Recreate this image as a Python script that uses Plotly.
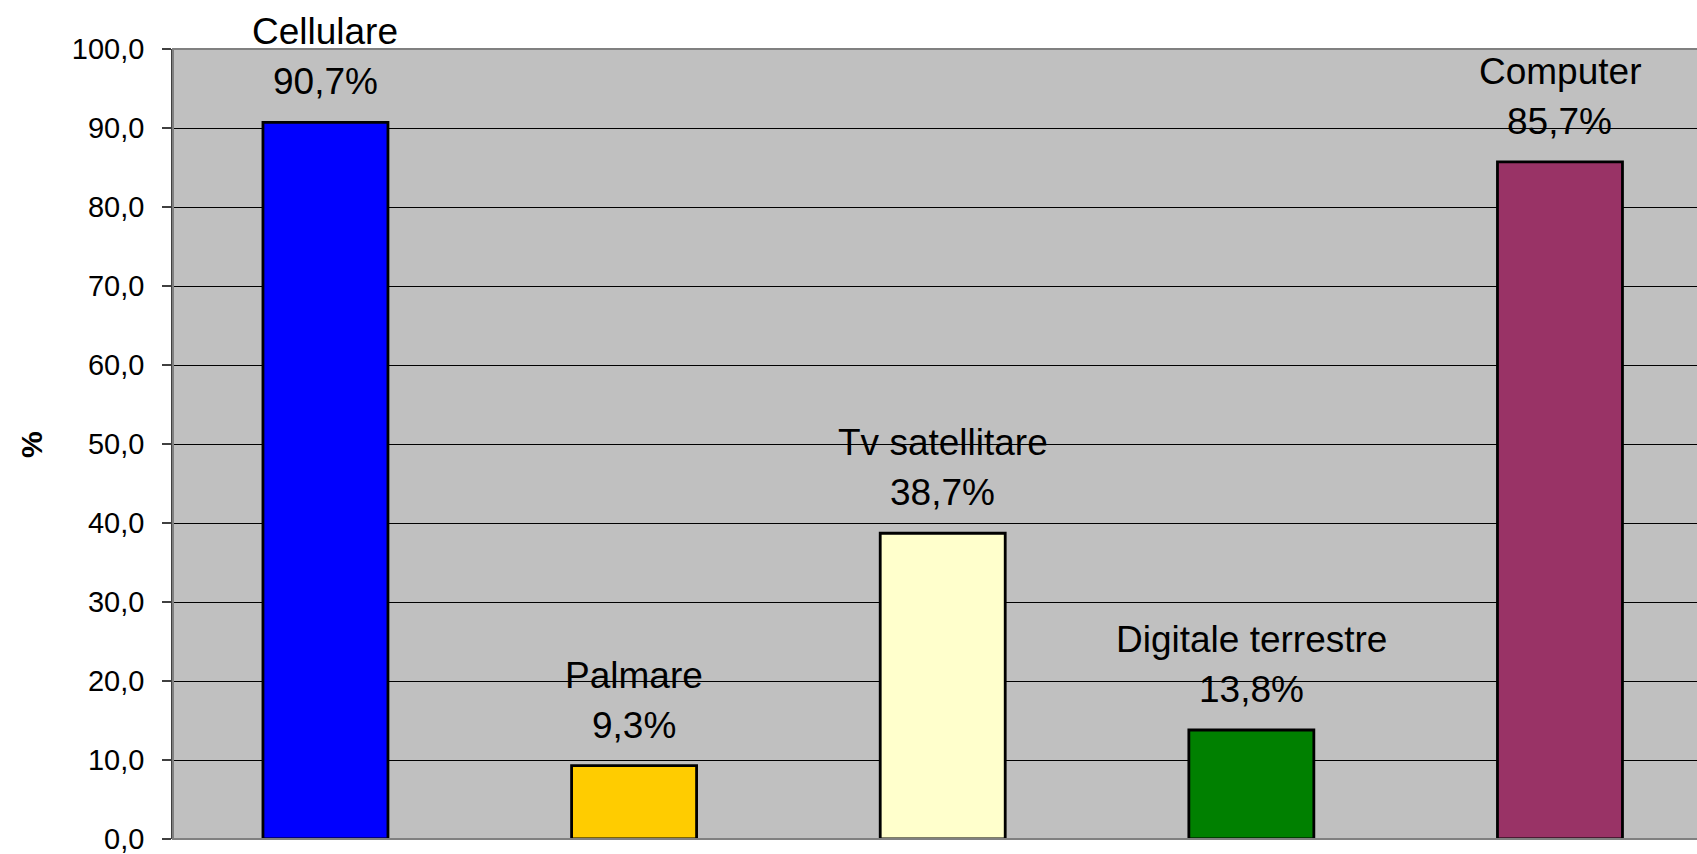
import plotly.graph_objects as go

categories = ["Cellulare", "Palmare", "Tv satellitare", "Digitale terrestre", "Computer"]
values = [90.7, 9.3, 38.7, 13.8, 85.7]
colors = ["#0000FF", "#FFCC00", "#FFFFCC", "#008000", "#993366"]
tick_vals = [0, 10, 20, 30, 40, 50, 60, 70, 80, 90, 100]

FONT = "Liberation Sans, Arial, sans-serif"
xs = list(range(len(categories)))

fig = go.Figure()
fig.add_trace(go.Bar(
    x=xs, y=values, width=0.405,
    marker=dict(color=colors, line=dict(color="#000000", width=2.8)),
    hoverinfo="skip",
))

annotations = []
for xi, name, v in zip(xs, categories, values):
    label = f"{v:.1f}".replace(".", ",") + "%"
    annotations.append(dict(x=xi, y=v, xref="x", yref="y", text=label, showarrow=False,
                            xanchor="center", yanchor="bottom", yshift=18,
                            font=dict(family=FONT, size=37, color="#000000")))
    annotations.append(dict(x=xi, y=v, xref="x", yref="y", text=name, showarrow=False,
                            xanchor="center", yanchor="bottom", yshift=68,
                            font=dict(family=FONT, size=37, color="#000000")))
annotations.append(dict(x=-0.0932, y=0.5, xref="paper", yref="paper", text="<b>%</b>",
                        showarrow=False, textangle=-90, xanchor="center", yanchor="middle",
                        font=dict(family=FONT, size=30, color="#000000")))

fig.update_layout(
    width=1697, height=854,
    margin=dict(l=173, r=0, t=49, b=15, pad=0),
    paper_bgcolor="#FFFFFF", plot_bgcolor="#C0C0C0",
    showlegend=False, separators=",.",
    font=dict(family=FONT, color="#000000"),
    annotations=annotations,
    shapes=[dict(type="rect", xref="paper", yref="paper", x0=0, x1=1.01, y0=0, y1=1,
                 line=dict(color="#808080", width=2), layer="above")],
    xaxis=dict(range=[-0.494, 4.444], showticklabels=False, showgrid=False,
               zeroline=False, ticks="", fixedrange=True),
    yaxis=dict(range=[0, 100], tickvals=tick_vals, tickformat=".1f", showgrid=True,
               gridcolor="#000000", gridwidth=1, zeroline=False,
               showline=True, linecolor="#404040", linewidth=1.5,
               ticks="outside", ticklen=9, tickcolor="#404040", tickwidth=1.5,
               ticklabelstandoff=12, ticklabeloverflow="allow",
               tickfont=dict(family=FONT, size=29, color="#000000")),
)

fig.write_html("out.html", config={"displayModeBar": False},
               post_script="document.body.style.margin='0';document.body.style.overflow='hidden';")
